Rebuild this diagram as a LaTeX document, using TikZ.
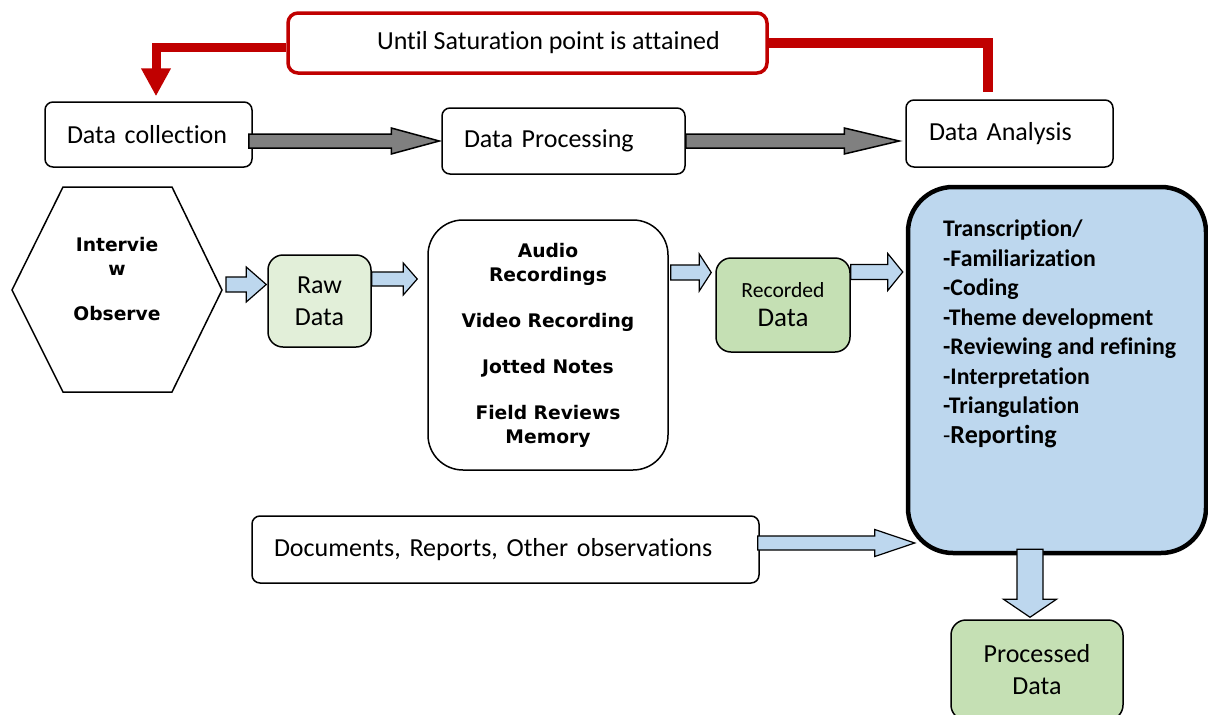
\documentclass[tikz,border=0pt]{standalone}
\usepackage{fontspec}
\setmainfont{Carlito}[RawFeature={-liga;-clig;-dlig;-calt;-hlig}]
\newfontfamily\verd{DejaVu Sans}
\usetikzlibrary{calc,arrows.meta}

\definecolor{satred}{RGB}{192,0,0}
\definecolor{arrowgray}{RGB}{128,128,128}
\definecolor{paleblue}{RGB}{189,215,238}
\definecolor{palegreen}{RGB}{226,239,217}
\definecolor{midgreen}{RGB}{197,224,180}

% horizontal block arrow: style, from, to, shaft half-width, head half-width, head length
\newcommand\harrow[6]{%
  \draw[#1] let \p1=(#2), \p2=(#3) in
    (\x1,{\y1+#4pt}) -- ({\x2-#6pt},{\y1+#4pt}) -- ({\x2-#6pt},{\y1+#5pt})
    -- (\x2,\y1) -- ({\x2-#6pt},{\y1-#5pt}) -- ({\x2-#6pt},{\y1-#4pt})
    -- (\x1,{\y1-#4pt}) -- cycle;}
% downward block arrow: style, from, to, shaft half-width, head half-width, head length
\newcommand\varrow[6]{%
  \draw[#1] let \p1=(#2), \p2=(#3) in
    ({\x1-#4pt},\y1) -- ({\x1-#4pt},{\y2+#6pt}) -- ({\x1-#5pt},{\y2+#6pt})
    -- (\x1,\y2) -- ({\x1+#5pt},{\y2+#6pt}) -- ({\x1+#4pt},{\y2+#6pt})
    -- ({\x1+#4pt},\y1) -- cycle;}

\tikzset{
  stagebox/.style={draw, line width=1.5, rounded corners=8, align=left,
    inner xsep=22, inner ysep=0, font=\fontsize{26}{31}\selectfont},
  greenbox/.style={draw, line width=1.5, rounded corners=15, align=center,
    inner sep=0, font=\fontsize{26}{32}\selectfont},
  boldverd/.style={align=center, inner sep=0,
    font=\verd\bfseries\fontsize{18.7}{24}\selectfont},
  grayarrow/.style={fill=arrowgray, draw=black, line width=1.5},
  bluearrow/.style={fill=paleblue, draw=black, line width=1.2},
  redline/.style={draw=satred, line width=#1},
}

\begin{document}
\begin{tikzpicture}[x=1pt,y=-1pt]
\useasboundingbox (0,0) rectangle (1208,715);

% top row of stages
\node[draw=satred, line width=3.5, rounded corners=10, minimum width=479,
  minimum height=60, inner sep=0, font=\fontsize{26}{31}\selectfont]
  (rs) at (527.5,43) {\hspace*{42pt}Until Saturation point is attained};
\node[stagebox, text width=163, minimum height=65] (dc) at (148.5,134.5) {Data collection};
\node[stagebox, text width=199, minimum height=66] (dp) at (563.5,141) {Data Processing};
\node[stagebox, text width=161, inner xsep=23, minimum height=67] (da) at (1009.5,133.5) {Data Analysis};

% feedback loop
\draw[redline=9, -{Triangle[width=28pt,length=28pt]}]
  ($(rs.west)+(0,4)$) -| ($(dc.north)+(7.5,-5)$);
\draw[redline=10] (rs.east) -| ($(da.north)+(-21.5,-7)$);

% stage arrows
\harrow{grayarrow}{$(dc.east |- dp.west)+(-4,0)$}{$(dp.west)+(-2,0)$}{7}{13}{48}
\harrow{grayarrow}{dp.east}{$(da.west |- dp.east)+(-6,0)$}{7}{13}{55}

% collection
\node[boldverd] (hex) at (117,279.5) {Intervie\\w\\[21pt]Observe};
\draw[line width=1.5] ($(hex)+(-105,10.5)$) -- ($(hex)+(-54,-92.5)$)
  -- ($(hex)+(55,-92.5)$) -- ($(hex)+(105,10.5)$) -- ($(hex)+(55,112.5)$)
  -- ($(hex)+(-54,112.5)$) -- cycle;

\node[greenbox, fill=palegreen, minimum width=103, minimum height=92] (raw) at (319.5,301) {Raw\\Data};

\node[boldverd, draw, line width=1.5, rounded corners=35, minimum width=240,
  minimum height=250] (mid) at (548,345)
  {Audio\\Recordings\\[22pt]Video Recording\\[22pt]Jotted Notes\\[22pt]Field Reviews\\Memory};

\node[greenbox, fill=midgreen, minimum width=134, minimum height=94] (rec) at (783,305)
  {{\fontsize{21.6}{26}\selectfont Recorded}\\[-3pt]{\fontsize{27}{31}\selectfont Data}};

% analysis
\node[draw, line width=4.5, fill=paleblue, rounded corners=45, minimum width=298,
  minimum height=366] (big) at (1057,370) {};
\node[anchor=north west, align=left, inner sep=0,
  font=\bfseries\fontsize{23.8}{29.5}\selectfont] (steps) at (943,220)
  {Transcription/\\-Familiarization\\-Coding\\-Theme development\\-Reviewing and refining\\
   -Interpretation\\-Triangulation\\{\mdseries -}{\fontsize{26}{30}\selectfont Reporting}};

\node[stagebox, text width=463, minimum height=67] (docs) at (505.5,549.5)
  {Documents, Reports, Other observations};

\node[greenbox, fill=midgreen, minimum width=172, minimum height=100] (proc) at (1037,670)
  {Processed\\Data};

% flow arrows
\harrow{bluearrow}{$(hex)+(109,5)$}{$(raw.west)+(-1,-16.5)$}{7.5}{17.5}{20}
\harrow{bluearrow}{$(raw.east)+(0,-22)$}{$(mid.west)+(-10,-66)$}{7}{16}{14}
\harrow{bluearrow}{$(mid.east)+(2,-72.5)$}{$(rec.west)+(-4,-32.5)$}{7.5}{18.5}{12}
\harrow{bluearrow}{$(rec.east)+(0,-33)$}{$(big.west)+(-3,-98)$}{7.5}{18.5}{15}
\harrow{bluearrow}{$(docs.east)+(-2,-6.5)$}{$(big.south west)+(9,-10)$}{7}{13.5}{40}
\varrow{bluearrow}{$(big.south)+(-27,-6)$}{$(proc.north)+(-7,-2)$}{13}{26.5}{18}
\end{tikzpicture}
\end{document}
